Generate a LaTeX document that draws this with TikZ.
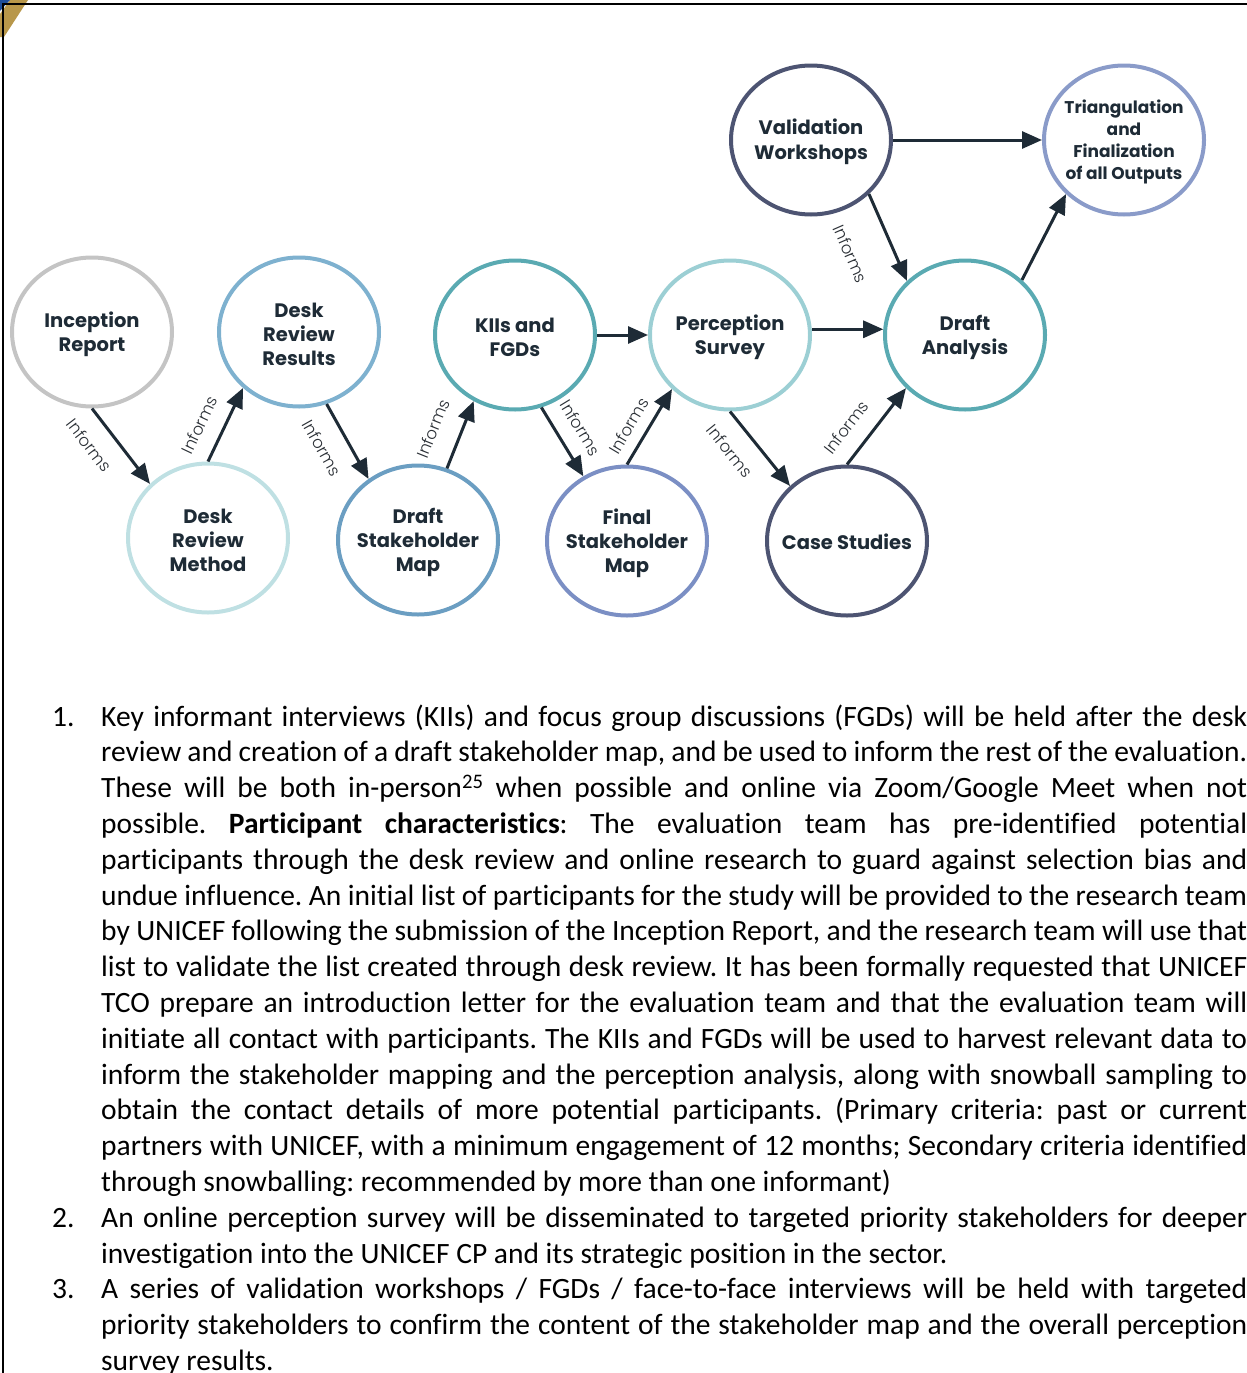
\documentclass[tikz,border=0pt]{standalone}
\usepackage{fontspec}
\setmainfont{Carlito}[Ligatures=NoCommon]
\newfontfamily\popfont{Poppins}
\newfontfamily\poplight{Poppins Light}
\usetikzlibrary{shapes.geometric,arrows.meta}
\definecolor{ink}{HTML}{1E2B36}
\definecolor{labgray}{HTML}{2A2F35}
\definecolor{cInc}{HTML}{C4C4C4}
\definecolor{cDrm}{HTML}{BFE0E3}
\definecolor{cDrr}{HTML}{7EB1CF}
\definecolor{cDsm}{HTML}{6B9EC2}
\definecolor{cKii}{HTML}{5AAAB2}
\definecolor{cPer}{HTML}{9CCFD4}
\definecolor{cFsm}{HTML}{7B8FC4}
\definecolor{cCs}{HTML}{4D5472}
\definecolor{cDa}{HTML}{5AAAB2}
\definecolor{cVal}{HTML}{4D5472}
\definecolor{cTri}{HTML}{8A9BC9}
\definecolor{logoblue}{HTML}{1F4E9A}
\definecolor{logogold}{HTML}{B8974A}
\newcommand\jl[1]{\makebox[1146pt][s]{#1}}
\frenchspacing
\begin{document}
\begin{tikzpicture}[x=1pt,y=-1pt,
  circ/.style={ellipse, draw=#1, line width=4pt, minimum width=160pt, minimum height=149pt, inner sep=0pt},
  ctext/.style={align=center, text=ink, inner sep=0pt, yshift=-2pt, font=\popfont\bfseries\fontsize{19.5}{24}\selectfont},
  arr/.style={draw=ink, line width=3pt, -{Triangle[length=20pt,width=17pt]}},
  lab/.style={sloped, pos=#1, inner sep=1pt, font=\poplight\fontsize{16.5}{16.5}\selectfont, text=labgray},
  bodyline/.style={anchor=base west, inner sep=0pt, font=\fontsize{29.5}{34}\selectfont, text=black}]
\useasboundingbox (0,0) rectangle (1247,1373);
% logo fragment and frame
\fill[logogold] (10,0) -- (28,0) -- (4,37) -- (0,37) -- (0,14) -- cycle;
\fill[logoblue] (0,0) -- (10,0) -- (0,11) -- cycle;
\draw[line width=1.5pt] (3,1373) -- (3,4) -- (1247,4);
% circles
\node[circ=cInc, label={[ctext]center:{Inception\\Report}}] (inc) at (92,332) {};
\node[circ=cDrm, label={[ctext]center:{Desk\\Review\\Method}}] (drm) at (208,538) {};
\node[circ=cDrr, label={[ctext]center:{Desk\\Review\\Results}}] (drr) at (299,332) {};
\node[circ=cDsm, label={[ctext]center:{Draft\\Stakeholder\\Map}}] (dsm) at (418,540) {};
\node[circ=cKii, label={[ctext]center:{KIIs and\\FGDs}}] (kii) at (515,335) {};
\node[circ=cPer, label={[ctext]center:{Perception\\Survey}}] (per) at (730,335) {};
\node[circ=cFsm, label={[ctext]center:{Final\\Stakeholder\\Map}}] (fsm) at (627,541) {};
\node[circ=cCs, label={[ctext, yshift=1pt]center:{Case Studies}}] (cs) at (847,541) {};
\node[circ=cDa, label={[ctext]center:{Draft\\Analysis}}] (da) at (965,335) {};
\node[circ=cVal, label={[ctext, font=\popfont\bfseries\fontsize{19.5}{25}\selectfont]center:{Validation\\Workshops}}] (val) at (811,140) {};
\node[circ=cTri, label={[ctext, font=\popfont\bfseries\fontsize{17}{21.7}\selectfont]center:{Triangulation\\and\\Finalization\\of all Outputs}}] (tri) at (1124,140) {};
% connectors
\draw[arr] (inc.270) -- node[lab=0.29, below=15.7pt] {Informs} (drm.137);
\draw[arr] (drm.90) -- node[lab=0.36, above=14.6pt] {Informs} (drr.225);
\draw[arr] (drr.291) -- node[lab=0.42, below=16.5pt] {Informs} (dsm.129);
\draw[arr] (dsm.68) -- node[lab=0.44, above=18.8pt] {Informs} (kii.238);
\draw[arr] (kii.290) -- node[lab=0.47, above=14pt] {Informs} (fsm.124);
\draw[arr] (fsm.90) -- node[lab=0.39, above=9.5pt] {Informs} (per.223);
\draw[arr] (per.270) -- node[lab=0.32, below=16pt] {Informs} (cs.136);
\draw[arr] (cs.90) -- node[lab=0.30, above=14.6pt] {Informs} (da.222);
\draw[arr] (kii.east) -- (per.west);
\draw[arr] (per.4) -- (da.176);
\draw[arr] (val.317) -- node[lab=0.5, below=32pt] {Informs} (da.137);
\draw[arr] (val.east) -- (tri.west);
\draw[arr] (da.44) -- (tri.223);
% body text
\node[bodyline] (n1) at (52,726) {1.};
\node[bodyline] (t1) at (101,726) {\jl{Key informant interviews (KIIs) and focus group discussions (FGDs) will be held after the desk}};
\node[bodyline] (t2) at (101,761.8) {\jl{review and creation of a draft stakeholder map, and be used to inform the rest of the evaluation.}};
\node[bodyline] (t3) at (101,797.6) {\jl{These will be both in-person\textsuperscript{25} when possible and online via Zoom/Google Meet when not}};
\node[bodyline] (t4) at (101,833.4) {\jl{possible. \textbf{Participant characteristics}: The evaluation team has pre-identified potential}};
\node[bodyline] (t5) at (101,869.2) {\jl{participants through the desk review and online research to guard against selection bias and}};
\node[bodyline] (t6) at (101,905.0) {\jl{undue influence. An initial list of participants for the study will be provided to the research team}};
\node[bodyline] (t7) at (101,940.8) {\jl{by UNICEF following the submission of the Inception Report, and the research team will use that}};
\node[bodyline] (t8) at (101,976.6) {\jl{list to validate the list created through desk review. It has been formally requested that UNICEF}};
\node[bodyline] (t9) at (101,1012.4) {\jl{TCO prepare an introduction letter for the evaluation team and that the evaluation team will}};
\node[bodyline] (t10) at (101,1048.2) {\jl{initiate all contact with participants. The KIIs and FGDs will be used to harvest relevant data to}};
\node[bodyline] (t11) at (101,1084.0) {\jl{inform the stakeholder mapping and the perception analysis, along with snowball sampling to}};
\node[bodyline] (t12) at (101,1119.8) {\jl{obtain the contact details of more potential participants. (Primary criteria: past or current}};
\node[bodyline] (t13) at (101,1155.6) {\jl{partners with UNICEF, with a minimum engagement of 12 months; Secondary criteria identified}};
\node[bodyline] (t14) at (101,1191.4) {through snowballing: recommended by more than one informant)};
\node[bodyline] (n2) at (52,1227.2) {2.};
\node[bodyline] (t15) at (101,1227.2) {\jl{An online perception survey will be disseminated to targeted priority stakeholders for deeper}};
\node[bodyline] (t16) at (101,1263.0) {investigation into the UNICEF CP and its strategic position in the sector.};
\node[bodyline] (n3) at (52,1298.8) {3.};
\node[bodyline] (t17) at (101,1298.8) {\jl{A series of validation workshops / FGDs / face-to-face interviews will be held with targeted}};
\node[bodyline] (t18) at (101,1334.6) {\jl{priority stakeholders to confirm the content of the stakeholder map and the overall perception}};
\node[bodyline] (t19) at (101,1370.4) {survey results.};
\end{tikzpicture}
\end{document}
